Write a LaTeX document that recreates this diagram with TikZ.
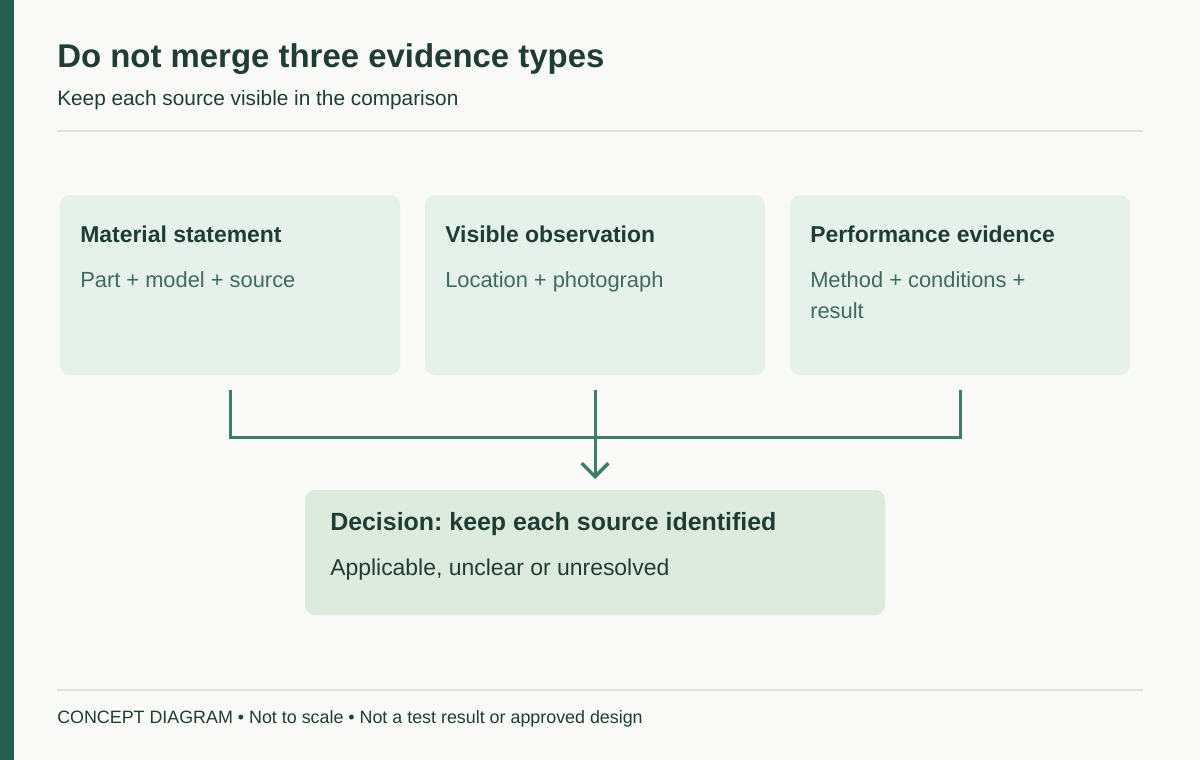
\documentclass[tikz,border=0pt]{standalone}
\usepackage{fontspec}
\setmainfont{Liberation Sans}
\usetikzlibrary{arrows.meta}
\definecolor{bg}{HTML}{F9F9F7}
\definecolor{bar}{HTML}{235E50}
\definecolor{ink}{HTML}{1F3D35}
\definecolor{soft}{HTML}{3F6B5F}
\definecolor{rule}{HTML}{DDE3DF}
\definecolor{card}{HTML}{E6F1EC}
\definecolor{dec}{HTML}{DDEBDF}
\definecolor{conn}{HTML}{3C7D6E}
\begin{document}
\frenchspacing
\begin{tikzpicture}[x=0.75pt,y=-0.75pt,
  card/.style={fill=card,draw=none,rounded corners=7.5pt},
  htitle/.style={anchor=base west,inner sep=0,text=ink,font=\fontsize{17.2}{20}\selectfont\bfseries},
  body/.style={anchor=base west,inner sep=0,text=soft,font=\fontsize{16.4}{23.25}\selectfont,align=left},
  conn/.style={draw=conn,line width=2.25pt}]
\useasboundingbox (0,0) rectangle (1200,760);
\fill[bg] (0,0) rectangle (1200,760);
\fill[bar] (0,0) rectangle (14,760);
\node[anchor=base west,inner sep=0,text=ink,font=\fontsize{24.7}{29}\selectfont\bfseries] (title) at (57,67) {Do not merge three evidence types};
\node[anchor=base west,inner sep=0,text=ink,font=\fontsize{15.6}{18}\selectfont] (sub) at (57,105) {Keep each source visible in the comparison};
\draw[rule,line width=1.2pt] (57,131) -- (1143,131);
\path[card] (60,195) rectangle (400,375) node[pos=0.5] (m) {};
\path[card] (425,195) rectangle (765,375) node[pos=0.5] (v) {};
\path[card] (790,195) rectangle (1130,375) node[pos=0.5] (p) {};
\node[htitle] (mt) at (80,242) {Material statement};
\node[body] (mb) at (80,287) {Part + model + source};
\node[htitle] (vt) at (445,242) {Visible observation};
\node[body] (vb) at (445,287) {Location + photograph};
\node[htitle] (pt) at (810,242) {Performance evidence};
\node[body] (pb) at (810,318) {Method + conditions +\\result};
\path[fill=dec,rounded corners=7.5pt] (305,490) rectangle (885,615);
\coordinate (d) at (595,479);
\node[anchor=base west,inner sep=0,text=ink,font=\fontsize{18.7}{22}\selectfont\bfseries] (dt) at (330,530) {Decision: keep each source identified};
\node[anchor=base west,inner sep=0,text=ink,font=\fontsize{17.2}{20}\selectfont] (db) at (330,575) {Applicable, unclear or unresolved};
\coordinate (ma) at (230,390); \coordinate (va) at (595,390); \coordinate (pa) at (960,390);
\draw[conn] (ma) -- (230,437) -- (960,437) -- (pa);
\draw[conn,-{Straight Barb[length=10pt,width=20pt,line width=2.6pt]}] (va) -- (d);
\draw[rule,line width=1.2pt] (57,690) -- (1143,690);
\node[anchor=base west,inner sep=0,text=ink,font=\fontsize{13.4}{16}\selectfont] (foot) at (57,723) {CONCEPT DIAGRAM • Not to scale • Not a test result or approved design};
\end{tikzpicture}
\end{document}
